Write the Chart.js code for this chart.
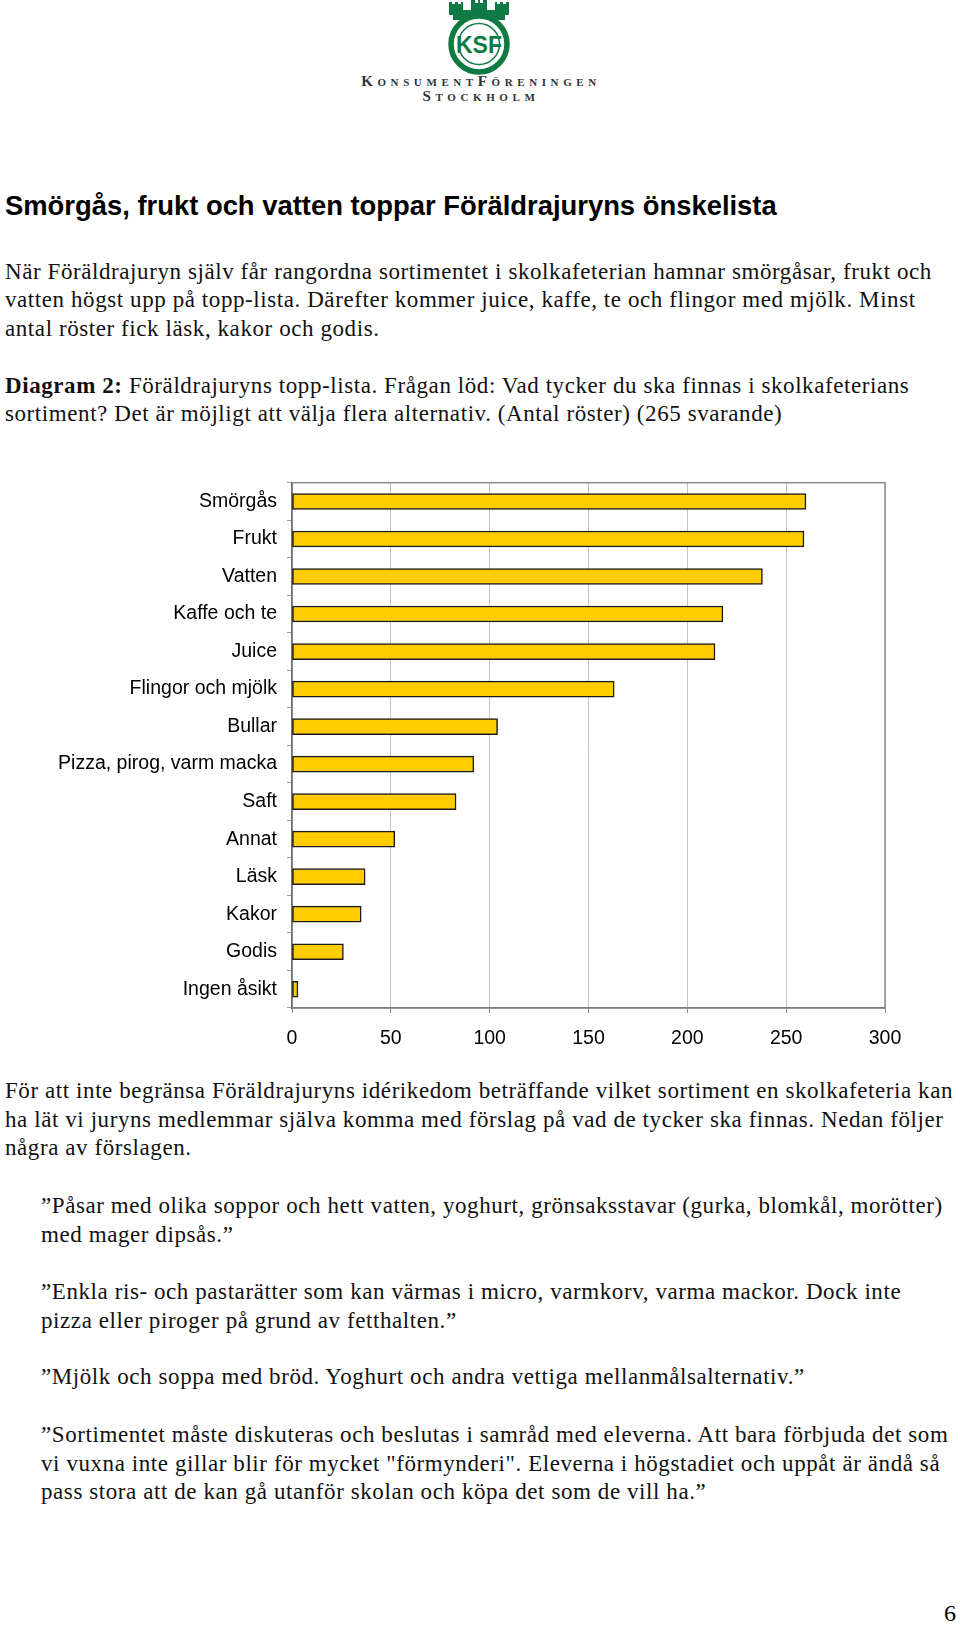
<!DOCTYPE html>
<html>
<head>
<meta charset="utf-8">
<script src="https://cdn.jsdelivr.net/npm/chart.js"></script>
<style>
  body { margin: 0; background: #fff; width: 960px; height: 1625px; position: relative; overflow: hidden; }
  .blk { position: absolute; left: 5px; white-space: nowrap; font-family: "Liberation Serif", "Times New Roman", serif; font-size: 23px; letter-spacing: 0.58px; line-height: 28.5px; color: #111; }
  .q { left: 41px; }
  h1 { position: absolute; left: 5px; top: 190px; margin: 0; font-family: "Liberation Sans", Arial, sans-serif; font-weight: bold; font-size: 27.4px; line-height: 32px; color: #000; }
  .logo-txt { position: absolute; left: 0; width: 962px; text-align: center; font-family: "Liberation Serif", serif; font-variant: small-caps; font-weight: bold; color: #333; font-size: 15px; letter-spacing: 4.6px; }
  #wrap { position: absolute; left: 0; top: 461px; width: 960px; height: 600px; }
  #pg { position: absolute; right: 4px; top: 1600px; font-family: "Liberation Serif", serif; font-size: 24px; }
</style>
</head>
<body>
<svg style="position:absolute;left:429px;top:0" width="100" height="76" viewBox="0 0 100 76">
  <g fill="#0f7a43">
    <rect x="20" y="2" width="14" height="13"/>
    <rect x="42" y="0" width="16" height="13"/>
    <rect x="66" y="2" width="14" height="13"/>
    <rect x="24" y="10" width="52" height="10"/>
  </g>
  <rect x="23" y="0" width="3" height="4" fill="#fff"/>
  <rect x="29" y="0" width="3" height="4" fill="#fff"/>
  <rect x="46" y="0" width="3" height="3" fill="#fff"/>
  <rect x="51" y="0" width="3" height="3" fill="#fff"/>
  <rect x="68" y="0" width="3" height="4" fill="#fff"/>
  <rect x="74" y="0" width="3" height="4" fill="#fff"/>
  <circle cx="50" cy="44" r="28" fill="#fff" stroke="#0f7a43" stroke-width="5.5"/>
  <circle cx="50" cy="44" r="20.5" fill="none" stroke="#0f7a43" stroke-width="1.5"/>
  <text x="50" y="53" text-anchor="middle" font-family="Liberation Sans, Arial" font-weight="bold" font-size="23" fill="#0f7a43">KSF</text>
</svg>
<div class="logo-txt" style="top:73px">KonsumentFöreningen</div>
<div class="logo-txt" style="top:88px">Stockholm</div>

<h1>Smörgås, frukt och vatten toppar Föräldrajuryns önskelista</h1>

<div class="blk" style="top:257.5px">När Föräldrajuryn själv får rangordna sortimentet i skolkafeterian hamnar smörgåsar, frukt och<br>vatten högst upp på topp-lista. Därefter kommer juice, kaffe, te och flingor med mjölk. Minst<br>antal röster fick läsk, kakor och godis.</div>

<div class="blk" style="top:371.5px"><b>Diagram 2:</b> Föräldrajuryns topp-lista. Frågan löd: Vad tycker du ska finnas i skolkafeterians<br>sortiment? Det är möjligt att välja flera alternativ. (Antal röster) (265 svarande)</div>

<div id="wrap"><canvas id="chart"></canvas></div>

<div class="blk" style="top:1077px">För att inte begränsa Föräldrajuryns idérikedom beträffande vilket sortiment en skolkafeteria kan<br>ha lät vi juryns medlemmar själva komma med förslag på vad de tycker ska finnas. Nedan följer<br>några av förslagen.</div>

<div class="blk q" style="top:1192px">”Påsar med olika soppor och hett vatten, yoghurt, grönsaksstavar (gurka, blomkål, morötter)<br>med mager dipsås.”</div>

<div class="blk q" style="top:1278px">”Enkla ris- och pastarätter som kan värmas i micro, varmkorv, varma mackor. Dock inte<br>pizza eller piroger på grund av fetthalten.”</div>

<div class="blk q" style="top:1363px">”Mjölk och soppa med bröd. Yoghurt och andra vettiga mellanmålsalternativ.”</div>

<div class="blk q" style="top:1421px">”Sortimentet måste diskuteras och beslutas i samråd med eleverna. Att bara förbjuda det som<br>vi vuxna inte gillar blir för mycket "förmynderi". Eleverna i högstadiet och uppåt är ändå så<br>pass stora att de kan gå utanför skolan och köpa det som de vill ha.”</div>

<div id="pg">6</div>

<script>
const categories = ['Smörgås', 'Frukt', 'Vatten', 'Kaffe och te', 'Juice', 'Flingor och mjölk', 'Bullar',
  'Pizza, pirog, varm macka', 'Saft', 'Annat', 'Läsk', 'Kakor', 'Godis', 'Ingen åsikt'];
const votes = [260, 259, 238, 218, 214, 163, 104, 92, 83, 52, 37, 35, 26, 3];
const xTicks = [0, 50, 100, 150, 200, 250, 300];

// grey frame round the plot area
const frame = {
  id: 'frame',
  beforeDatasetsDraw(chart) {
    const a = chart.chartArea;
    const c = chart.ctx;
    c.save();
    c.strokeStyle = '#8c8c8c';
    c.lineWidth = 1.5;
    c.strokeRect(a.left, a.top, a.right - a.left, a.bottom - a.top);
    c.restore();
  }
};

const font = { family: '"Liberation Sans", Arial, sans-serif', size: 19.5 };

new Chart(document.getElementById('chart'), {
  type: 'bar',
  data: {
    labels: categories,
    datasets: [{
      data: votes,
      backgroundColor: '#FFCC00',
      borderColor: '#1a1a1a',
      borderWidth: 1.5,
      borderSkipped: false,
      barThickness: 16
    }]
  },
  options: {
    indexAxis: 'y',
    responsive: true,
    maintainAspectRatio: false,
    animation: false,
    layout: { padding: { top: 20, right: 75, left: 0, bottom: 0 } },
    plugins: { legend: { display: false }, tooltip: { enabled: false } },
    scales: {
      x: {
        min: 0,
        max: 300,
        afterBuildTicks: s => { s.ticks = xTicks.map(v => ({ value: v })); },
        afterFit: s => { s.height = 53; },
        ticks: { color: '#000', font: font, padding: 14 },
        grid: { color: '#c4c4c4', lineWidth: 1, tickLength: 5, tickColor: '#888' },
        border: { color: '#555', width: 1.5 }
      },
      y: {
        afterFit: s => { s.width = 292; },
        ticks: { color: '#000', font: font, padding: 10, autoSkip: false },
        grid: { drawOnChartArea: false, tickLength: 5, color: '#999' },
        border: { color: '#222', width: 1.5 }
      }
    }
  },
  plugins: [frame]
});
</script>
</body>
</html>
